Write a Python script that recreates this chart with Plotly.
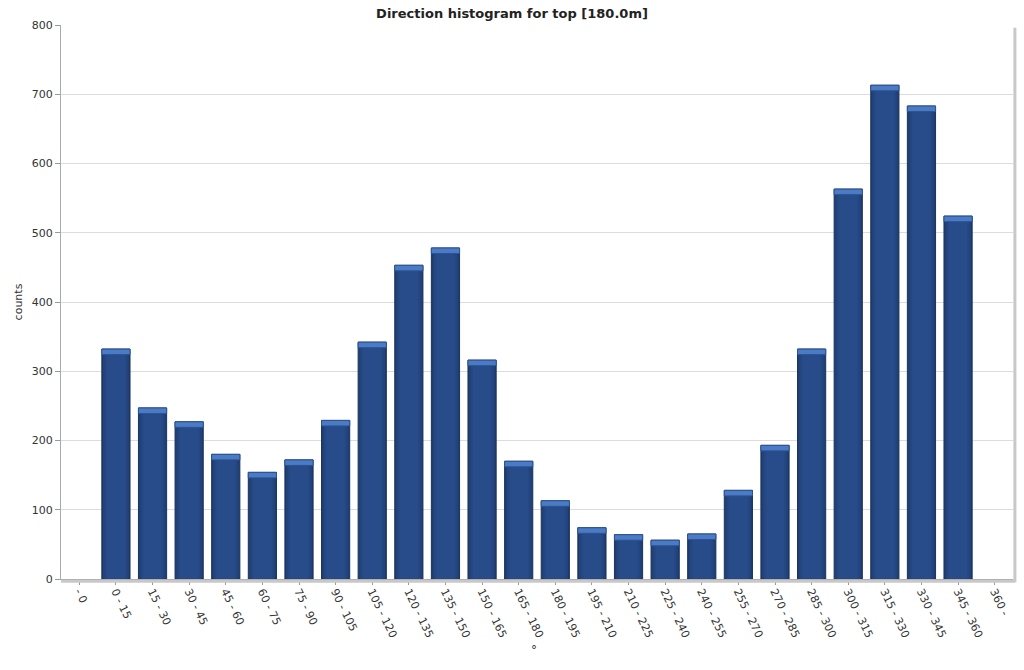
import plotly.graph_objects as go

categories = ["- 0", "0 - 15", "15 - 30", "30 - 45", "45 - 60", "60 - 75", "75 - 90",
              "90 - 105", "105 - 120", "120 - 135", "135 - 150", "150 - 165", "165 - 180",
              "180 - 195", "195 - 210", "210 - 225", "225 - 240", "240 - 255", "255 - 270",
              "270 - 285", "285 - 300", "300 - 315", "315 - 330", "330 - 345", "345 - 360", "360 -"]
counts = [None, 332, 247, 227, 180, 154, 172, 229, 342, 453, 478, 316, 170, 113, 74, 64, 56,
          65, 128, 193, 332, 563, 713, 683, 524, None]

y_ticks = [0, 100, 200, 300, 400, 500, 600, 700, 800]

CAP = 8
BW = 0.77

fig = go.Figure()
fig.add_trace(go.Bar(x=categories, y=counts, width=BW,
                     marker=dict(color="#1e3b6d", line=dict(color="#1a3462", width=1)),
                     hoverinfo="x+y", showlegend=False))
# soft central highlight for cylindrical look
for w in [0.7, 0.6, 0.5]:
    fig.add_trace(go.Bar(x=categories, y=[None if c is None else c - CAP for c in counts],
                         width=w, marker=dict(color="#2d5797", opacity=0.3, line=dict(width=0)),
                         hoverinfo="skip", showlegend=False))
# light cap on top
fig.add_trace(go.Bar(x=categories, y=[None if c is None else CAP for c in counts],
                     base=[None if c is None else c - CAP for c in counts], width=BW,
                     marker=dict(color="#4b7bc4", line=dict(color="#2c5494", width=1)),
                     hoverinfo="skip", showlegend=False))

fig.update_layout(
    width=1024, height=670,
    barmode="overlay",
    paper_bgcolor="white", plot_bgcolor="white",
    margin=dict(l=61, r=11, t=25, b=91),
    font=dict(family="DejaVu Sans, Verdana, sans-serif", size=11, color="#333"),
    title=dict(text="<b>Direction histogram for top [180.0m]</b>", x=0.5, xanchor="center",
               y=0.98, yanchor="middle", font=dict(size=13, color="#222")),
    xaxis=dict(type="category", tickangle=64, ticks="outside", ticklen=5, tickcolor="#999",
               showline=True, linecolor="#aaa", linewidth=1, showgrid=False,
               ticklabelstandoff=-4,
               tickfont=dict(size=11, color="#333"), automargin=False),
    yaxis=dict(range=[0, 800], tickvals=y_ticks, ticks="outside", ticklen=5, tickcolor="#999",
               showline=True, linecolor="#aaa", linewidth=1, gridcolor="#dcdcdc",
               title=dict(text="counts", standoff=6, font=dict(size=11)),
               tickfont=dict(size=11, color="#333"), zeroline=False, automargin=False),
    annotations=[
        dict(text="°", xref="paper", yref="paper", x=0.497, y=-0.128, xanchor="center",
             yanchor="middle", showarrow=False, font=dict(size=12, color="#333")),
    ],
    shapes=[
        dict(type="line", xref="paper", yref="paper", x0=1.002, x1=1.002, y0=-0.006, y1=0.995,
             line=dict(color="#c8c8c8", width=3)),
        dict(type="line", xref="paper", yref="paper", x0=0.0, x1=1.002, y0=-0.004, y1=-0.004,
             line=dict(color="#c8c8c8", width=3)),
    ],
)

fig.write_html("out.html")
